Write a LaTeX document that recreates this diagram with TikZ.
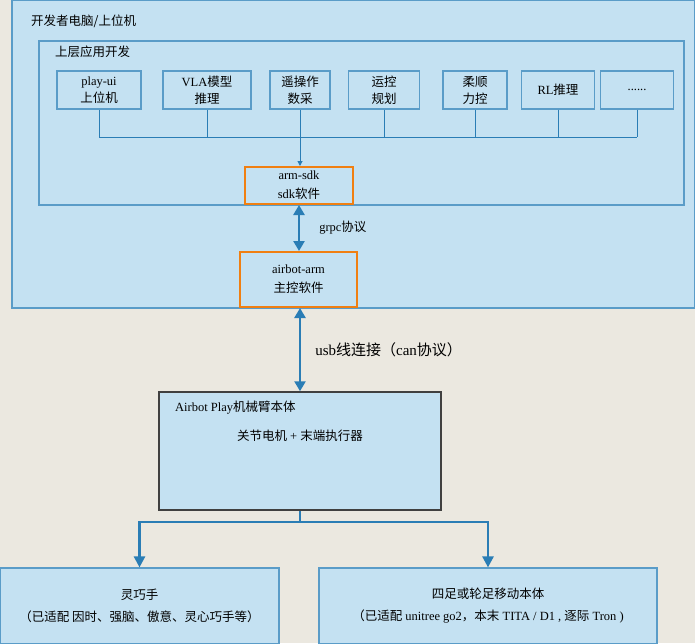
\documentclass[tikz,border=0pt]{standalone}
\usepackage{fontspec}
\setmainfont{Liberation Serif}
\newfontfamily\cjk{Noto Sans CJK SC}
\usetikzlibrary{positioning, calc, arrows.meta}
\definecolor{bgbeige}{HTML}{EBE8E0}
\definecolor{boxfill}{HTML}{C4E1F2}
\definecolor{boxline}{HTML}{5A9CC8}
\definecolor{wireblue}{HTML}{2A7DB5}
\definecolor{sdkorange}{HTML}{F07F12}

\begin{document}
\begin{tikzpicture}[x=1pt,y=-1pt,
    panel/.style={draw=boxline, fill=boxfill, line width=1.2pt},
    app/.style={draw=boxline, line width=1.2pt, align=center,
      font=\fontsize{12.5}{17}\selectfont, inner sep=0pt},
    core/.style={draw=sdkorange, line width=2pt, align=center,
      font=\fontsize{12.5}{19}\selectfont, inner sep=0pt},
    bus/.style={draw=wireblue, line width=1pt},
    link/.style={draw=wireblue, line width=2.5pt, {Triangle[width=11pt,length=10pt]}-{Triangle[width=11pt,length=10pt]}},
    feed/.style={draw=wireblue, line width=2.5pt, -{Triangle[width=11pt,length=11pt]}},
    lbl/.style={font=\fontsize{12.5}{15}\selectfont, inner sep=0pt}]
  \useasboundingbox (0,0) rectangle (695,643);
  \fill[bgbeige] (0,0) rectangle (695,643);

  % HOST PC
  \draw[panel] (12,0) rectangle (695,308);
  \node[lbl, anchor=west] (hosttitle) at (31,21) {\cjk 开发者电脑/上位机};
  \draw[panel] (39,41) rectangle (684,205);
  \node[lbl, anchor=west] (apptitle) at (55,52) {\cjk 上层应用开发};

  % APPLICATIONS
  \node[app, minimum width=84pt, minimum height=38pt] (playui) at (99,90) {play-ui\\{\cjk 上位机}};
  \node[app, minimum width=88pt, minimum height=38pt] (vla) at (207,90) {VLA{\cjk 模型}\\{\cjk 推理}};
  \node[app, minimum width=60pt, minimum height=38pt] (teleop) at (300,90) {{\cjk 遥操作}\\{\cjk 数采}};
  \node[app, minimum width=71pt, minimum height=38pt] (motion) at (384,90) {{\cjk 运控}\\{\cjk 规划}};
  \node[app, minimum width=64pt, minimum height=38pt] (compliance) at (475,90) {{\cjk 柔顺}\\{\cjk 力控}};
  \node[app, minimum width=73pt, minimum height=38pt] (rl) at (558,90) {RL{\cjk 推理}};
  \node[app, minimum width=73pt, minimum height=38pt] (more) at (637,90) {......};

  % SOFTWARE
  \node[core, minimum width=108pt, minimum height=37pt] (armsdk) at (299,185.5) {arm-sdk\\sdk{\cjk 软件}};
  \node[core, minimum width=117pt, minimum height=55pt] (airbotarm) at (298.5,279.5) {airbot-arm\\{\cjk 主控软件}};

  % HARDWARE
  \node[draw=black!75, fill=boxfill, line width=1.5pt, minimum width=282pt, minimum height=118pt] (arm) at (300,451) {};
  \node[lbl, anchor=west] (armtitle) at (175,408) {Airbot Play{\cjk 机械臂本体}};
  \node[lbl] (armparts) at (300,436) {{\cjk 关节电机} + {\cjk 末端执行器}};
  \node[panel, minimum width=279pt, minimum height=76pt, align=center,
    font=\fontsize{12.5}{22}\selectfont] (hand) at (139.5,606) {{\cjk 灵巧手}\\{\cjk （已适配 因时、强脑、傲意、灵心巧手等）}};
  \node[panel, minimum width=338pt, minimum height=76pt, align=center,
    font=\fontsize{12.5}{22}\selectfont] (mobile) at (488,606) {{\cjk 四足或轮足移动本体}\\{\cjk （已适配} unitree go2{\cjk ，本末} TITA / D1 , {\cjk 逐际} Tron )};

  % CONNECTIONS
  \coordinate (busy) at (0,137);
  \foreach \n in {playui, vla, motion, compliance, rl, more}
    \draw[bus] (\n.south) -- (\n.south |- busy);
  \draw[bus] (playui.south |- busy) -- (more.south |- busy);
  \draw[bus, -{Triangle[width=5pt,length=5pt]}] (teleop.south) -- (teleop.south |- armsdk.north);
  \draw[link] (armsdk.south) -- (armsdk.south |- airbotarm.north) node[midway, right=19pt, lbl] {grpc{\cjk 协议}};
  \draw[link] (airbotarm.south -| arm.north) -- (arm.north) node[midway, right=14pt, lbl, font=\fontsize{15}{17}\selectfont] {usb{\cjk 线连接（}can{\cjk 协议）}};
  \coordinate (split) at ($(arm.south)+(0,11)$);
  \draw[feed] (arm.south) -- (split) -| (hand.north);
  \draw[feed] (split) -| (mobile.north);
\end{tikzpicture}
\end{document}
